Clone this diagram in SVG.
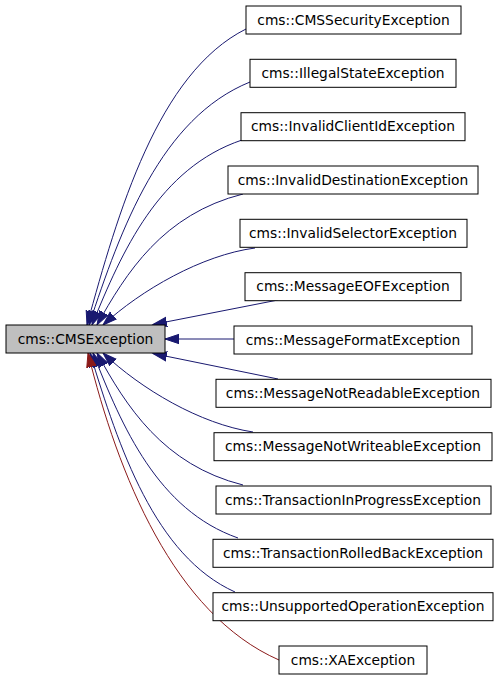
<svg xmlns="http://www.w3.org/2000/svg" width="499" height="680" viewBox="0 0 499 680">
<style>
.box{fill:#ffffff;stroke:#000000;stroke-width:1}
.base{fill:#bfbfbf;stroke:#000000;stroke-width:1}
text{font-family:"DejaVu Sans",sans-serif;font-size:13.8px;fill:#000000;text-anchor:middle}
.pub{fill:none;stroke:#191970;stroke-width:1;marker-end:url(#ab)}
.priv{fill:none;stroke:#8b1a1a;stroke-width:1;marker-end:url(#ar)}
</style>
<defs>
<marker id="ab" markerUnits="userSpaceOnUse" orient="auto" markerWidth="16" markerHeight="12" refX="14" refY="6" viewBox="0 0 16 12"><polygon points="14,6 0,1.3 0,10.7" fill="#191970" stroke="#191970" stroke-width="1"/></marker>
<marker id="ar" markerUnits="userSpaceOnUse" orient="auto" markerWidth="16" markerHeight="12" refX="14" refY="6" viewBox="0 0 16 12"><polygon points="14,6 0,1.3 0,10.7" fill="#8b1a1a" stroke="#8b1a1a" stroke-width="1"/></marker>
</defs>
<g id="connectors">
<path class="pub" d="M246,29 C158,73 118,212 87,325"/>
<path class="pub" d="M250,82 C161,118 121,228 89,325"/>
<path class="pub" d="M242,140 C159,168 122,251 92,325"/>
<path class="pub" d="M243,194 C163,214 126,273 97,325"/>
<path class="pub" d="M255,248 C202,255 141,290 103,325"/>
<path class="pub" d="M278,300 L153,324.5"/>
<path class="pub" d="M234,339 L165,339"/>
<path class="pub" d="M278,379 L153,353.5"/>
<path class="pub" d="M253,432 C200,424 141,389 103,353"/>
<path class="pub" d="M243,485 C163,465 126,406 97,353"/>
<path class="pub" d="M238,538 C158,510 122,427 93,353"/>
<path class="pub" d="M235,592 C155,556 119,448 90,353"/>
<path class="priv" d="M279,660 C174,614 118,475 88,353"/>
</g>
<g id="node-CMSException"><rect class="base" x="6" y="325" width="159" height="28"/><text x="85.5" y="343.5">cms::CMSException</text></g>
<g id="node-CMSSecurityException"><rect class="box" x="246" y="6" width="215" height="28"/><text x="353.5" y="24.5">cms::CMSSecurityException</text></g>
<g id="node-IllegalStateException"><rect class="box" x="250" y="59.3" width="206" height="28"/><text x="353" y="77.8">cms::IllegalStateException</text></g>
<g id="node-InvalidClientIdException"><rect class="box" x="241" y="112.7" width="224" height="28"/><text x="353" y="131.2">cms::InvalidClientIdException</text></g>
<g id="node-InvalidDestinationException"><rect class="box" x="228" y="166" width="250" height="28"/><text x="353" y="184.5">cms::InvalidDestinationException</text></g>
<g id="node-InvalidSelectorException"><rect class="box" x="240" y="219.3" width="227" height="28"/><text x="353" y="237.8">cms::InvalidSelectorException</text></g>
<g id="node-MessageEOFException"><rect class="box" x="245" y="272.7" width="216" height="28"/><text x="353" y="291.2">cms::MessageEOFException</text></g>
<g id="node-MessageFormatException"><rect class="box" x="234" y="326" width="238" height="28"/><text x="353" y="344.5">cms::MessageFormatException</text></g>
<g id="node-MessageNotReadableException"><rect class="box" x="216" y="379.3" width="275" height="28"/><text x="353" y="397.8">cms::MessageNotReadableException</text></g>
<g id="node-MessageNotWriteableException"><rect class="box" x="214" y="432.7" width="278" height="28"/><text x="353" y="451.2">cms::MessageNotWriteableException</text></g>
<g id="node-TransactionInProgressException"><rect class="box" x="216" y="486" width="275" height="28"/><text x="353" y="504.5">cms::TransactionInProgressException</text></g>
<g id="node-TransactionRolledBackException"><rect class="box" x="213" y="539.3" width="280" height="28"/><text x="353" y="557.8">cms::TransactionRolledBackException</text></g>
<g id="node-UnsupportedOperationException"><rect class="box" x="213" y="592.7" width="280" height="28"/><text x="353" y="611.2">cms::UnsupportedOperationException</text></g>
<g id="node-XAException"><rect class="box" x="279" y="646" width="148" height="28"/><text x="353" y="664.5">cms::XAException</text></g>
</svg>
